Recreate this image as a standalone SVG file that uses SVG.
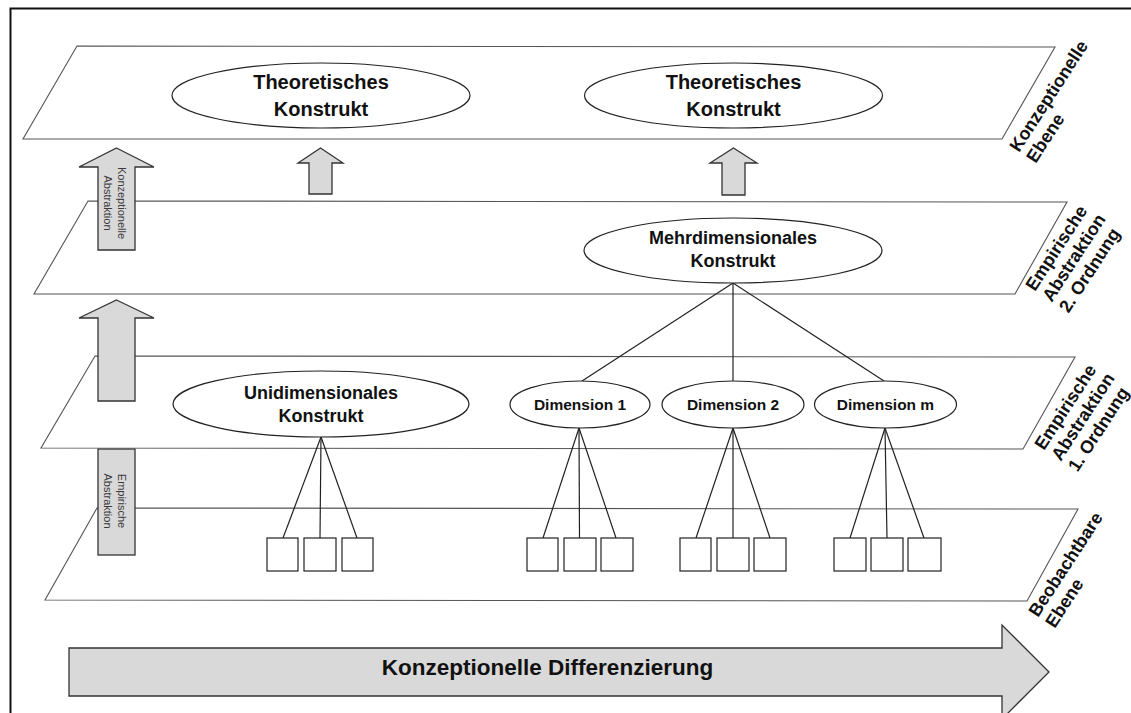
<svg xmlns="http://www.w3.org/2000/svg" width="1131" height="713" viewBox="0 0 1131 713">
  <style>
    .plane { fill: #ffffff; stroke: #555555; stroke-width: 1.1; }
    .arrow { fill: #d9d9d9; stroke: #333333; stroke-width: 1.3; stroke-linejoin: miter; }
    .node { fill: #ffffff; stroke: #222222; stroke-width: 1.2; }
    .item { fill: #ffffff; stroke: #222222; stroke-width: 1.2; }
    .edge { stroke: #222222; stroke-width: 1.2; fill: none; }
    .t { font-family: "Liberation Sans", Arial, sans-serif; font-weight: bold; fill: #111111; text-anchor: middle; }
    .t20 { font-size: 20px; }
    .t18 { font-size: 18px; }
    .t16 { font-size: 15.5px; }
    .side { font-family: "Liberation Sans", Arial, sans-serif; font-weight: bold; font-size: 18px; fill: #111111; }
    .vlabel { font-family: "Liberation Sans", Arial, sans-serif; font-size: 11px; fill: #3a3a3a; text-anchor: middle; }
  </style>

  <rect width="1131" height="713" fill="#ffffff"/>
  <!-- frame -->
  <path d="M10.5,713 V8.5 H1131" fill="none" stroke="#111111" stroke-width="2"/>

  <!-- observable level + empirical abstraction bar -->
  <g id="plane-beobachtbar">
    <polygon class="plane" points="97,508 1078,509 1027,601 45,600"/>
  </g>
  <g id="arrow-empirisch">
    <rect class="arrow" x="98" y="449" width="37" height="106"/>
    <text class="vlabel" transform="translate(116.5,501) rotate(90)"><tspan x="0" y="-1.5">Empirische</tspan><tspan x="0" y="12.5">Abstraktion</tspan></text>
  </g>

  <!-- first-order empirical abstraction level -->
  <g id="plane-ordnung1">
    <polygon class="plane" points="95,356 1075,357 1023,449 41,448"/>
  </g>
  <g id="arrow-mid">
    <polygon class="arrow" points="116.5,300 154,318 135,318 135,401 98,401 98,318 79,318"/>
  </g>

  <!-- second-order empirical abstraction level -->
  <g id="plane-ordnung2">
    <polygon class="plane" points="88,201 1067,202 1015,294 34,294"/>
  </g>
  <g id="arrow-konzeptionell">
    <polygon class="arrow" points="116.5,148 154,167 135,167 135,250 98,250 98,167 79,167"/>
    <text class="vlabel" transform="translate(116.5,203) rotate(90)"><tspan x="0" y="-1.5">Konzeptionelle</tspan><tspan x="0" y="12.5">Abstraktion</tspan></text>
  </g>

  <!-- conceptual level -->
  <g id="plane-konzeptionell">
    <polygon class="plane" points="77,46 1055,47 1002,139 23,139"/>
  </g>

  <!-- small up arrows -->
  <g id="arrow-up-1">
    <polygon class="arrow" points="320.5,148 343,163 332,163 332,194 309,194 309,163 298,163"/>
  </g>
  <g id="arrow-up-2">
    <polygon class="arrow" points="733.5,148 757,163 745,163 745,195 722,195 722,163 710,163"/>
  </g>

  <!-- connectors -->
  <g id="connectors" class="edge">
    <line x1="733" y1="283" x2="582" y2="381"/>
    <line x1="733" y1="283" x2="733" y2="381"/>
    <line x1="733" y1="283" x2="884" y2="381"/>

    <line x1="321" y1="437" x2="283" y2="538"/>
    <line x1="321" y1="437" x2="320" y2="538"/>
    <line x1="321" y1="437" x2="357" y2="538"/>

    <line x1="579" y1="428" x2="543" y2="538"/>
    <line x1="579" y1="428" x2="579.5" y2="538"/>
    <line x1="579" y1="428" x2="616" y2="538"/>

    <line x1="733" y1="428" x2="696" y2="538"/>
    <line x1="733" y1="428" x2="733" y2="538"/>
    <line x1="733" y1="428" x2="770" y2="538"/>

    <line x1="885" y1="428" x2="850" y2="538"/>
    <line x1="885" y1="428" x2="887" y2="538"/>
    <line x1="885" y1="428" x2="924" y2="538"/>
  </g>

  <!-- construct nodes -->
  <g id="theoretisch-1">
    <ellipse class="node" cx="321" cy="95.5" rx="149" ry="32.5"/>
    <text class="t t20" x="321" y="89">Theoretisches</text>
    <text class="t t20" x="321" y="116">Konstrukt</text>
  </g>
  <g id="theoretisch-2">
    <ellipse class="node" cx="733.5" cy="95.5" rx="149" ry="32.5"/>
    <text class="t t20" x="733.5" y="89">Theoretisches</text>
    <text class="t t20" x="733.5" y="116">Konstrukt</text>
  </g>
  <g id="mehrdimensional">
    <ellipse class="node" cx="733" cy="250.5" rx="149" ry="32.5"/>
    <text class="t t18" x="733" y="244">Mehrdimensionales</text>
    <text class="t t18" x="733" y="267">Konstrukt</text>
  </g>
  <g id="unidimensional">
    <ellipse class="node" cx="321" cy="404" rx="148" ry="33"/>
    <text class="t t18" x="321" y="399">Unidimensionales</text>
    <text class="t t18" x="321" y="422">Konstrukt</text>
  </g>
  <g id="dimension-1">
    <ellipse class="node" cx="580" cy="404.5" rx="70" ry="23.5"/>
    <text class="t t16" x="580" y="410">Dimension 1</text>
  </g>
  <g id="dimension-2">
    <ellipse class="node" cx="733" cy="404.5" rx="71" ry="23.5"/>
    <text class="t t16" x="733" y="410">Dimension 2</text>
  </g>
  <g id="dimension-m">
    <ellipse class="node" cx="885.5" cy="404.5" rx="71" ry="23.5"/>
    <text class="t t16" x="885.5" y="410">Dimension m</text>
  </g>

  <!-- indicator boxes -->
  <g id="indikatoren-uni">
    <rect class="item" x="267" y="538" width="31" height="33"/>
    <rect class="item" x="304" y="538" width="32" height="33"/>
    <rect class="item" x="342" y="538" width="31" height="33"/>
  </g>
  <g id="indikatoren-dim1">
    <rect class="item" x="527" y="538" width="31" height="33"/>
    <rect class="item" x="564" y="538" width="32" height="33"/>
    <rect class="item" x="601" y="538" width="32" height="33"/>
  </g>
  <g id="indikatoren-dim2">
    <rect class="item" x="680" y="538" width="31" height="33"/>
    <rect class="item" x="717" y="538" width="32" height="33"/>
    <rect class="item" x="754" y="538" width="32" height="33"/>
  </g>
  <g id="indikatoren-dimm">
    <rect class="item" x="834" y="538" width="32" height="33"/>
    <rect class="item" x="871" y="538" width="32" height="33"/>
    <rect class="item" x="908" y="538" width="33" height="33"/>
  </g>

  <!-- level labels -->
  <g id="label-konzeptionell">
    <text class="side" transform="translate(1019,153) rotate(-57)"><tspan x="0" y="0">Konzeptionelle</tspan><tspan x="0" y="20">Ebene</tspan></text>
  </g>
  <g id="label-ordnung2">
    <text class="side" transform="translate(1035,292) rotate(-57)"><tspan x="0" y="0">Empirische</tspan><tspan x="0" y="20">Abstraktion</tspan><tspan x="0" y="40">2. Ordnung</tspan></text>
  </g>
  <g id="label-ordnung1">
    <text class="side" transform="translate(1044,451) rotate(-57)"><tspan x="0" y="0">Empirische</tspan><tspan x="0" y="20">Abstraktion</tspan><tspan x="0" y="40">1. Ordnung</tspan></text>
  </g>
  <g id="label-beobachtbar">
    <text class="side" transform="translate(1038,618) rotate(-57)"><tspan x="0" y="0">Beobachtbare</tspan><tspan x="0" y="20">Ebene</tspan></text>
  </g>

  <!-- differentiation arrow -->
  <g id="arrow-differenzierung">
    <polygon class="arrow" points="69,648 1002,648 1002,625 1049,672 1002,719 1002,696 69,696"/>
    <text class="t" x="547.5" y="675" font-size="22.5">Konzeptionelle Differenzierung</text>
  </g>
</svg>
